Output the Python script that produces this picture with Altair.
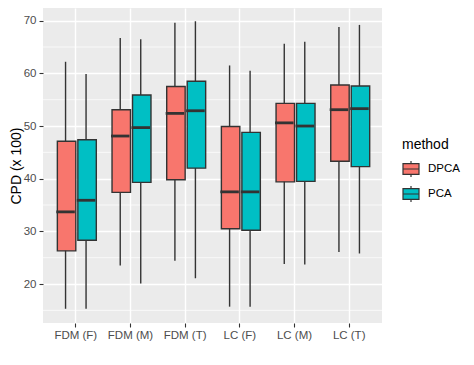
import altair as alt
import pandas as pd

categories = ["FDM (F)", "FDM (M)", "FDM (T)", "LC (F)", "LC (M)", "LC (T)"]
methods = ["DPCA", "PCA"]

# per-method five-number summaries, in category order
dpca_min = [15.3, 23.5, 24.4, 15.7, 23.8, 26.1]
dpca_q1 = [26.3, 37.4, 39.8, 30.5, 39.4, 43.3]
dpca_med = [33.7, 48.1, 52.4, 37.5, 50.6, 53.1]
dpca_q3 = [47.1, 53.1, 57.5, 49.9, 54.3, 57.8]
dpca_max = [62.2, 66.7, 69.6, 61.5, 65.6, 68.8]

pca_min = [15.3, 20.1, 21.1, 15.7, 23.7, 25.8]
pca_q1 = [28.3, 39.3, 42.0, 30.2, 39.5, 42.3]
pca_med = [35.9, 49.7, 52.9, 37.5, 50.0, 53.3]
pca_q3 = [47.4, 55.9, 58.5, 48.8, 54.3, 57.6]
pca_max = [59.9, 66.5, 69.9, 60.5, 66.0, 69.2]

major_ticks = [20, 30, 40, 50, 60, 70]
minor_ticks = [15, 25, 35, 45, 55, 65]

rows = []
for m, (mn, q1, md, q3, mx) in zip(
    methods,
    [(dpca_min, dpca_q1, dpca_med, dpca_q3, dpca_max),
     (pca_min, pca_q1, pca_med, pca_q3, pca_max)],
):
    for i, c in enumerate(categories):
        rows.append(dict(cat=c, method=m, lo=mn[i], q1=q1[i], med=md[i], q3=q3[i], hi=mx[i]))
df = pd.DataFrame(rows)
minor_df = pd.DataFrame({"v": minor_ticks})

yscale = alt.Scale(domain=[12.6, 72.41], nice=False, zero=False)
xenc = alt.X(
    "cat:N",
    sort=categories,
    scale=alt.Scale(paddingInner=0.25, paddingOuter=0.225),
    axis=alt.Axis(
        title=None, labelAngle=0, labelFontSize=11.5, labelColor="#4D4D4D",
        tickSize=4, tickColor="#333333", tickWidth=1.1, labelPadding=2,
        domain=False, grid=True, gridColor="white", gridWidth=1.4,
    ),
)
xoff = alt.XOffset("method:N", sort=methods, scale=alt.Scale(paddingInner=0, paddingOuter=0))
colors = alt.Scale(domain=methods, range=["#F8766D", "#00BFC4"])

legend_path = "M-1,-0.68H1V0.68H-1Z M-1,0H1 M0,-0.68V-1 M0,0.68V1"

minor = alt.Chart(minor_df).mark_rule(color="white", strokeWidth=0.7).encode(
    y=alt.Y("v:Q", scale=yscale)
)

base = alt.Chart(df)

whisk = base.mark_rule(color="#333333", strokeWidth=1.4).encode(
    x=xenc, xOffset=xoff,
    y=alt.Y("lo:Q", scale=yscale, axis=alt.Axis(
        title="CPD (x 100)", titleFontSize=14, titleFontWeight="normal", titleColor="black",
        titlePadding=0, values=major_ticks, labelFontSize=11.5, labelColor="#4D4D4D",
        tickSize=4, tickColor="#333333", tickWidth=1.1, labelPadding=3,
        domain=False, grid=True, gridColor="white", gridWidth=1.4,
    )),
    y2="hi:Q",
)

box = base.mark_bar(width={"band": 0.9}, stroke="#333333", strokeWidth=1.4).encode(
    x=xenc, xOffset=xoff,
    y=alt.Y("q1:Q", scale=yscale),
    y2="q3:Q",
    fill=alt.Fill("method:N", scale=colors, legend=alt.Legend(
        title="method", orient="none", legendX=359, legendY=130,
        titleFontSize=14, titleFontWeight="normal", titleColor="black", titlePadding=8,
        labelFontSize=11.5, labelColor="black", labelOffset=8,
        symbolType=legend_path, symbolSize=256, symbolStrokeColor="#333333",
        symbolStrokeWidth=1.2, symbolOpacity=1, rowPadding=3,
    )),
)

med = base.mark_tick(orient="horizontal", size=18.5, thickness=2.8, color="#333333", opacity=1).encode(
    x=xenc, xOffset=xoff,
    y=alt.Y("med:Q", scale=yscale),
)

chart = alt.layer(minor, whisk, box, med).properties(
    width=339, height=315,
    autosize=alt.AutoSizeParams(type="none"),
    padding={"left": 35, "top": 0, "right": 84, "bottom": 34},
).configure(font="Liberation Sans").configure_view(fill="#EBEBEB", stroke=None)

chart.save("out.html", embed_options={"renderer": "svg", "actions": False})
